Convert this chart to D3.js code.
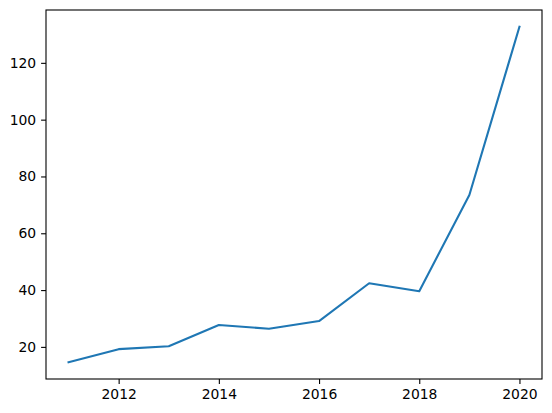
<!DOCTYPE html>
<html>
<head>
  <meta charset="utf-8">
  <title>line</title>
  <style>
    body { margin: 0; background: #fff; }
    text { font-family: "DejaVu Sans", sans-serif; }
  </style>
</head>
<body>
<script src="https://cdnjs.cloudflare.com/ajax/libs/d3/7.8.5/d3.min.js"></script>
<script>
// values
const years = [2011, 2012, 2013, 2014, 2015, 2016, 2017, 2018, 2019, 2020];
const values = [14.6, 19.2, 20.2, 27.7, 26.4, 29.1, 42.4, 39.6, 73.5, 132.7];
const xTicks = [2012, 2014, 2016, 2018, 2020];
const yTicks = [20, 40, 60, 80, 100, 120];

const width = 552, height = 413;
const m = { top: 10, right: 10, bottom: 34, left: 46 };

const svg = d3.select("body").append("svg")
  .attr("width", width)
  .attr("height", height);

// matplotlib style 5% margins around the data
const pad = (lo, hi) => { const d = (hi - lo) * 0.05; return [lo - d, hi + d]; };

const x = d3.scaleLinear()
  .domain(pad(d3.min(years), d3.max(years)))
  .range([m.left, width - m.right]);

const y = d3.scaleLinear()
  .domain(pad(d3.min(values), d3.max(values)))
  .range([height - m.bottom, m.top]);

const xAxis = svg.append("g")
  .attr("transform", `translate(0,${height - m.bottom})`)
  .call(d3.axisBottom(x).tickValues(xTicks).tickFormat(d3.format("d")).tickSize(4.9).tickPadding(4.9));

const yAxis = svg.append("g")
  .attr("transform", `translate(${m.left},0)`)
  .call(d3.axisLeft(y).tickValues(yTicks).tickSize(4.9).tickPadding(4.9));

[xAxis, yAxis].forEach(g => {
  g.select(".domain").remove();
  g.selectAll("text").attr("font-size", 13.9).attr("fill", "#000")
    .attr("font-family", "DejaVu Sans, sans-serif");
  g.selectAll("line").attr("stroke", "#000").attr("stroke-width", 1.1);
});

svg.append("path")
  .datum(years.map((yr, i) => [yr, values[i]]))
  .attr("fill", "none")
  .attr("stroke", "#1f77b4")
  .attr("stroke-width", 2.1)
  .attr("stroke-linejoin", "round")
  .attr("stroke-linecap", "square")
  .attr("d", d3.line().x(d => x(d[0])).y(d => y(d[1])));

// axes frame
svg.append("rect")
  .attr("x", m.left)
  .attr("y", m.top)
  .attr("width", width - m.left - m.right)
  .attr("height", height - m.top - m.bottom)
  .attr("fill", "none")
  .attr("stroke", "#000")
  .attr("stroke-width", 1.1);
</script>
</body>
</html>
